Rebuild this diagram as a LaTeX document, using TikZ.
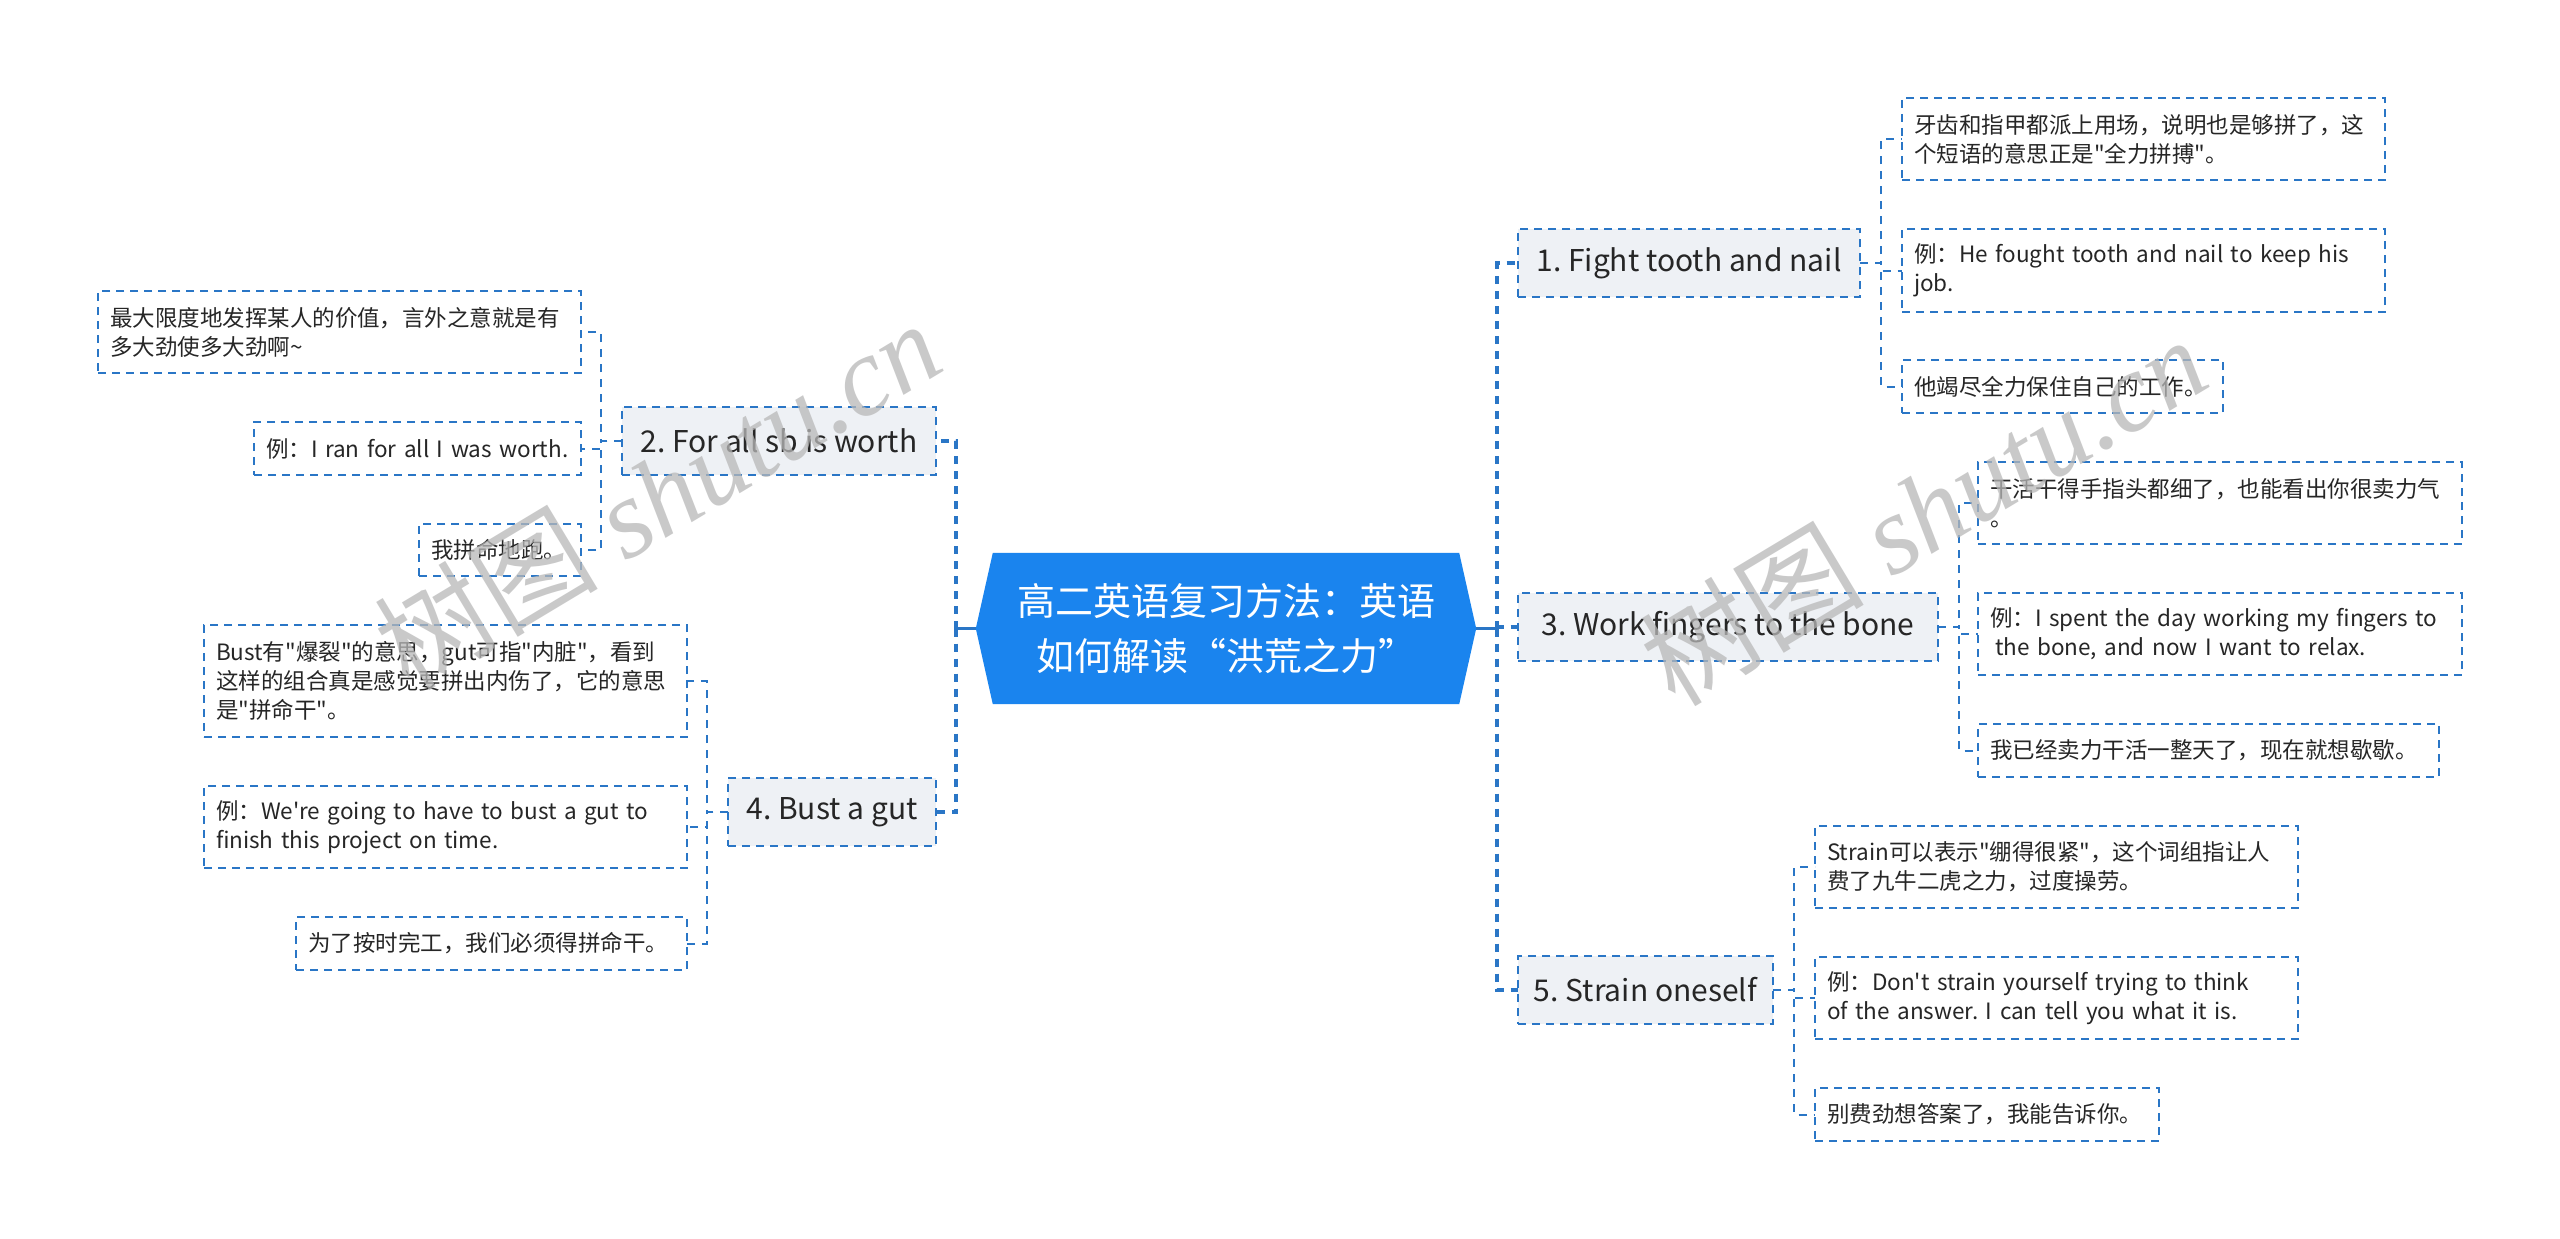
\documentclass[tikz,border=0pt]{standalone}
\usepackage{fontspec}
\newfontfamily\cn{Noto Sans CJK SC}
\newfontfamily\wmlat{Liberation Serif}
\usetikzlibrary{backgrounds}
\definecolor{lineblue}{HTML}{2A76C6}
\definecolor{centerblue}{HTML}{1A84EE}
\definecolor{brfill}{HTML}{EEF1F5}
\definecolor{textc}{HTML}{262626}
\definecolor{wmgray}{HTML}{B8B8B8}
\frenchspacing
\begin{document}
\begin{tikzpicture}[x=1pt,y=-1pt,
  leaf/.style={draw=lineblue, line width=1.8pt, dash pattern=on 8pt off 6pt, fill=white, text=textc,
    font=\cn\frenchspacing\fontsize{22.5}{29}\selectfont, align=left, inner xsep=12pt, inner ysep=0pt, outer sep=0pt},
  br/.style={draw=lineblue, line width=1.8pt, dash pattern=on 8pt off 6pt, fill=brfill, text=textc,
    font=\cn\fontsize{30}{36}\selectfont, inner sep=0pt, outer sep=0pt, minimum height=68pt},
  ctext/.style={text=white, font=\cn\fontsize{38}{55}\selectfont, align=center, inner sep=0pt,
    minimum width=500pt, minimum height=151pt},
  trunk/.style={draw=lineblue, line width=3.5pt, dash pattern=on 8pt off 7pt},
  solidc/.style={draw=lineblue, line width=3.5pt},
  subc/.style={draw=lineblue, line width=2pt, dash pattern=on 8pt off 7pt},
  wm/.style={text=wmgray, opacity=0.75, font=\wmlat\itshape\fontsize{112}{112}\selectfont, inner sep=0pt}
]
\useasboundingbox (0,0) rectangle (2560,1239);
\begin{scope}[on background layer]
\fill[white] (0,0) rectangle (2560,1239);
\end{scope}

% central topic
\node[ctext] (c) at (1226,628.5) {高二英语复习方法：英语\\如何解读“洪荒之力”};
\begin{scope}[on background layer]
\fill[centerblue] (c.west) -- ([xshift=17pt]c.north west) -- ([xshift=-17pt]c.north east) -- (c.east)
  -- ([xshift=-17pt]c.south east) -- ([xshift=17pt]c.south west) -- cycle;
\end{scope}

% main branches
\node[br, anchor=west, minimum width=342pt] (n1) at (1518,263) {1. Fight tooth and nail};
\node[br, anchor=west, minimum width=420pt] (n3) at (1518,627) {3. Work fingers to the bone};
\node[br, anchor=west, minimum width=255pt] (n5) at (1518,990) {5. Strain oneself};
\node[br, anchor=east, minimum width=314pt] (n2) at (936,441) {2. For all sb is worth};
\node[br, anchor=east, minimum width=208pt] (n4) at (936,812) {4. Bust a gut};

% leaves of 1
\node[leaf, anchor=north west, text width=459pt, minimum height=82pt] (n1a) at (1902,98)
  {牙齿和指甲都派上用场，说明也是够拼了，这\\个短语的意思正是"全力拼搏"。};
\node[leaf, anchor=north west, text width=459pt, minimum height=83pt] (n1b) at (1902,229)
  {例：He fought tooth and nail to keep his\\job.};
\node[leaf, anchor=north west, text width=297pt, minimum height=53pt] (n1c) at (1902,360)
  {他竭尽全力保住自己的工作。};

% leaves of 3
\node[leaf, anchor=north west, text width=460pt, minimum height=82pt] (n3a) at (1978,462)
  {干活干得手指头都细了，也能看出你很卖力气\\。};
\node[leaf, anchor=north west, text width=460pt, minimum height=82pt] (n3b) at (1978,593)
  {例：I spent the day working my fingers to\\\hspace*{5pt}the bone, and now I want to relax.};
\node[leaf, anchor=north west, text width=437pt, minimum height=53pt] (n3c) at (1978,724)
  {我已经卖力干活一整天了，现在就想歇歇。};

% leaves of 5
\node[leaf, anchor=north west, text width=459pt, minimum height=82pt] (n5a) at (1815,826)
  {Strain可以表示"绷得很紧"，这个词组指让人\\费了九牛二虎之力，过度操劳。};
\node[leaf, anchor=north west, text width=459pt, minimum height=82pt] (n5b) at (1815,957)
  {例：Don't strain yourself trying to think\\of the answer. I can tell you what it is.};
\node[leaf, anchor=north west, text width=320pt, minimum height=53pt] (n5c) at (1815,1088)
  {别费劲想答案了，我能告诉你。};

% leaves of 2
\node[leaf, anchor=north east, text width=459pt, minimum height=82pt] (n2a) at (581,291)
  {最大限度地发挥某人的价值，言外之意就是有\\多大劲使多大劲啊\string~};
\node[leaf, anchor=north east, text width=303pt, minimum height=53pt] (n2b) at (581,422)
  {例：I ran for all I was worth.};
\node[leaf, anchor=north east, text width=138pt, minimum height=52pt] (n2c) at (581,524)
  {我拼命地跑。};

% leaves of 4
\node[leaf, anchor=north east, text width=459pt, minimum height=112pt] (n4a) at (687,625)
  {Bust有"爆裂"的意思，gut可指"内脏"，看到\\这样的组合真是感觉要拼出内伤了，它的意思\\是"拼命干"。};
\node[leaf, anchor=north east, text width=459pt, minimum height=82pt] (n4b) at (687,786)
  {例：We're going to have to bust a gut to\\finish this project on time.};
\node[leaf, anchor=north east, text width=367pt, minimum height=53pt] (n4c) at (687,917)
  {为了按时完工，我们必须得拼命干。};

% main connectors
\coordinate (rt) at (1497,628.5);
\coordinate (lt) at (956,628.5);
\draw[solidc] (c.east) -- (rt);
\draw[solidc] (c.west) -- (lt);
\draw[trunk] (rt) |- (n1.west);
\draw[trunk] (rt) |- (n3.west);
\draw[trunk] (rt) |- (n5.west);
\draw[trunk] (lt) |- (n2.east);
\draw[trunk] (lt) |- (n4.east);

% sub connectors
\foreach \p/\k in {n1/n1a,n1/n1b,n1/n1c,n3/n3a,n3/n3b,n3/n3c,n5/n5a,n5/n5b,n5/n5c}
  \draw[subc] (\p.east) -- ++(21,0) |- (\k.west);
\foreach \p/\k in {n2/n2a,n2/n2b,n2/n2c,n4/n4a,n4/n4b,n4/n4c}
  \draw[subc] (\p.west) -- ++(-21,0) |- (\k.east);

% watermarks
\node[wm, rotate=31] (wm1) at (657,494) {{\cn 树图} shutu.cn};
\node[wm, rotate=31] (wm2) at (1923,510) {{\cn 树图} shutu.cn};
\end{tikzpicture}
\end{document}
